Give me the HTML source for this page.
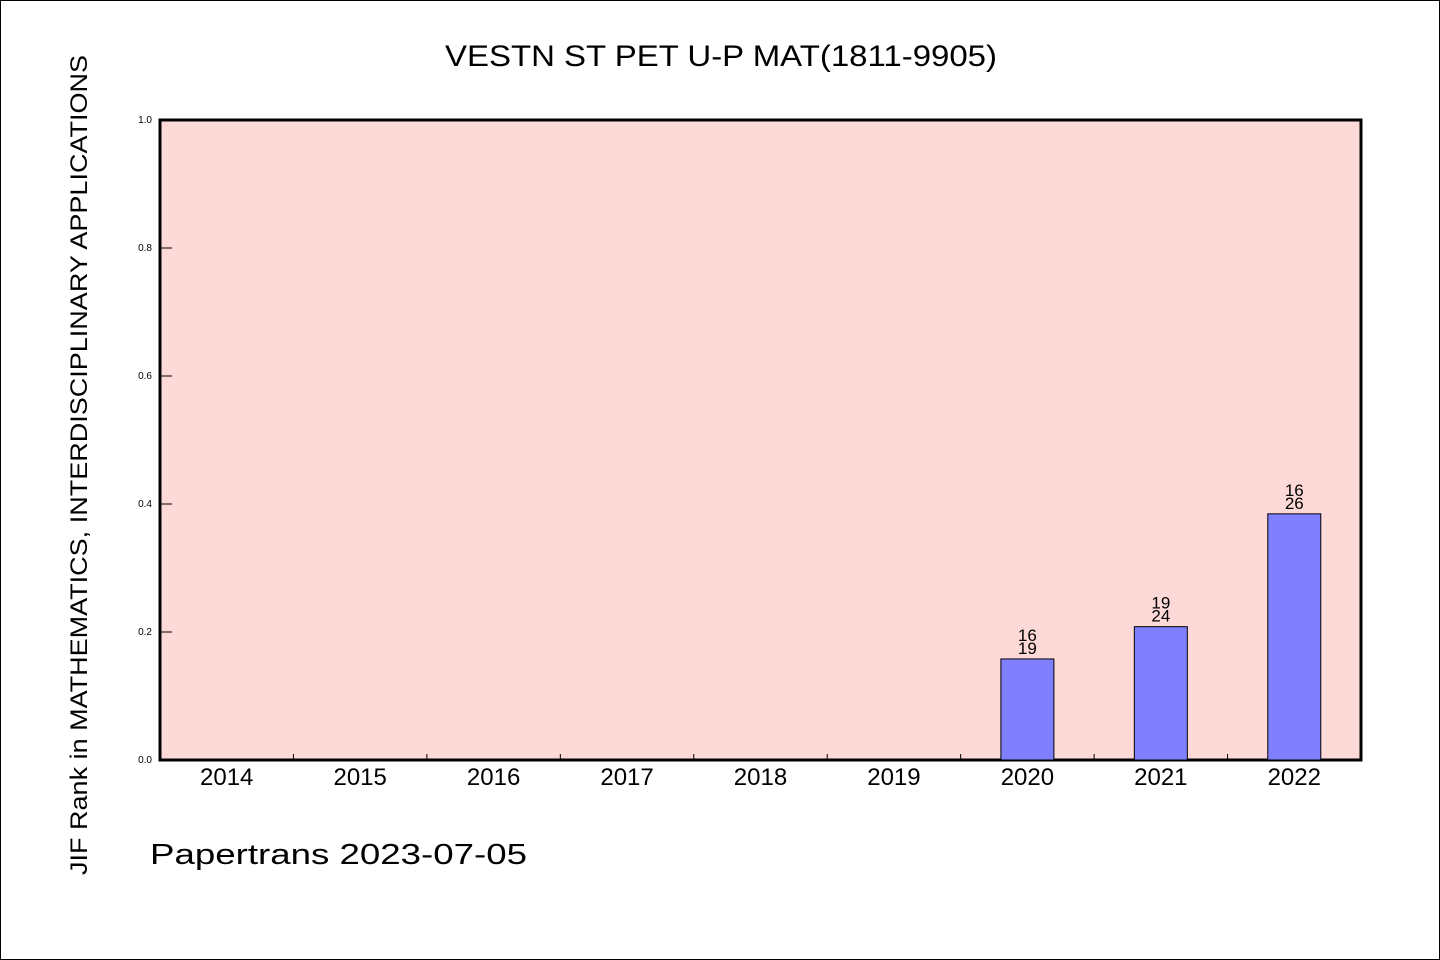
<!DOCTYPE html>
<html><head><meta charset="utf-8"><style>
body{margin:0;background:#fff}
svg{display:block}
text{font-family:"Liberation Sans","WenQuanYi Zen Hei",sans-serif;fill:#000}
</style></head><body>
<svg width="1440" height="960" id="c">
<rect x="0.5" y="0.5" width="1439" height="959" fill="#fff" stroke="#000"/>
<text x="721" y="66" font-size="30" text-anchor="middle" textLength="552" lengthAdjust="spacingAndGlyphs">VESTN ST PET U-P MAT(1811-9905)</text>
<rect x="160" y="120" width="1201" height="640" fill="#fddad7" stroke="#000" stroke-width="3"/>
<text transform="translate(87,465) rotate(-90)" font-size="24" text-anchor="middle" textLength="820" lengthAdjust="spacingAndGlyphs">JIF Rank in MATHEMATICS, INTERDISCIPLINARY APPLICATIONS</text>
<text x="150" y="864" font-size="29" textLength="377" lengthAdjust="spacingAndGlyphs">Papertrans 2023-07-05</text>
<g id="g"></g>
</svg>
<script>
const categories=["2014","2015","2016","2017","2018","2019","2020","2021","2022"];
const ranks=[null,null,null,null,null,null,16,19,16];
const totals=[null,null,null,null,null,null,19,24,26];
const yTicks=[0,0.2,0.4,0.6,0.8,1.0];
const X0=160,X1=1361,Y0=760,Y1=120;
const bw=(X1-X0)/categories.length;
const x=i=>X0+bw*(i+0.5);
const y=v=>Y0-(Y0-Y1)*v;
const g=document.getElementById('g');
const NS='http://www.w3.org/2000/svg';
function mk(t,a){const e=document.createElementNS(NS,t);for(const k in a)e.setAttribute(k,a[k]);g.appendChild(e);return e;}
yTicks.forEach(v=>{
 const l=mk('line',{x1:X0,x2:X0+12,y1:y(v),y2:y(v),stroke:'#000','stroke-width':1});
 
 
 const t=mk('text',{x:X0-8,y:y(v)+3,'font-size':10,'text-anchor':'end'});
 t.textContent=v.toFixed(1);
 
 
});
categories.forEach((c,i)=>{
 if(i>0){const l=mk('line',{x1:X0+bw*i,x2:X0+bw*i,y1:Y0,y2:Y0-6,stroke:'#000'});
 
 }
 const t=mk('text',{x:x(i),y:785,'font-size':24,'text-anchor':'middle'});
 t.textContent=c;
 
 
 if(ranks[i]!=null){
  const v=(totals[i]-ranks[i])/totals[i];
  const r=mk('rect',{x:x(i)-26.5,y:y(v),width:53,height:Y0-y(v),fill:'#8080ff',stroke:'#000','stroke-width':1});
  
  
  const a=mk('text',{x:x(i),y:y(v)-18,'font-size':17,'text-anchor':'middle'});
  a.textContent=ranks[i];
  
  
  const b=mk('text',{x:x(i),y:y(v)-5,'font-size':17,'text-anchor':'middle'});
  b.textContent=totals[i];
  
  
 }
});
</script>
</body></html>
